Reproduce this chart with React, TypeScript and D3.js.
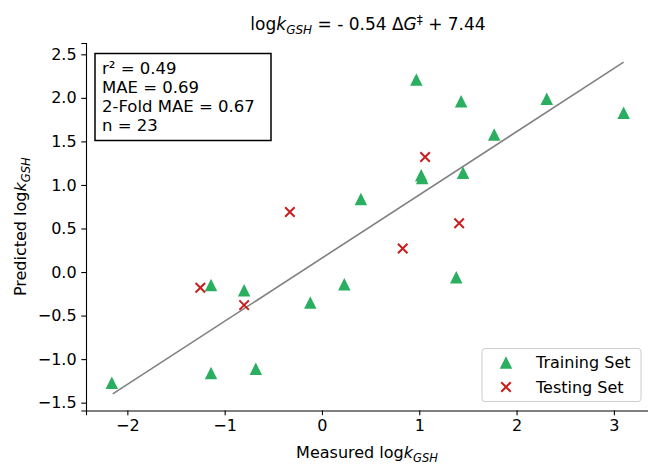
import React, { useRef, useEffect } from 'react';
import * as d3 from 'd3';

// training set (green triangles)
const trainX = [-2.16, -1.14, -0.68, -1.14, -0.80, -0.12, 0.23, 0.40, 0.97, 1.02, 1.03, 1.43, 1.45, 1.38, 1.77, 2.31, 3.10];
const trainY = [-1.27, -1.16, -1.11, -0.15, -0.21, -0.35, -0.14, 0.84, 2.21, 1.11, 1.08, 1.96, 1.14, -0.06, 1.58, 1.99, 1.83];
// testing set (red crosses)
const testX = [-1.25, -0.80, -0.33, 0.83, 1.06, 1.41];
const testY = [-0.18, -0.38, 0.69, 0.27, 1.32, 0.56];
// fitted line
const fitX = [-2.15, 3.10];
const fitY = [-1.40, 2.41];

const xTicks = [-2, -1, 0, 1, 2, 3];
const yTicks = [-1.5, -1.0, -0.5, 0.0, 0.5, 1.0, 1.5, 2.0, 2.5];
const statLines = ['r² = 0.49', 'MAE = 0.69', '2-Fold MAE = 0.67', 'n = 23'];
const legendLabels = ['Training Set', 'Testing Set'];

const W = 648;
const H = 465;
const FONT = 'DejaVu Sans, sans-serif';
const GREEN = '#2aae60';
const RED = '#c81e1e';

const minus = (s: string) => s.replace('-', '\u2212');

const triPath = (cx: number, cy: number, s: number) =>
  `M${cx},${cy - s / 2}L${cx + s / 2},${cy + s / 2}L${cx - s / 2},${cy + s / 2}Z`;

const crossPath = (cx: number, cy: number, s: number) =>
  `M${cx - s / 2},${cy - s / 2}L${cx + s / 2},${cy + s / 2}M${cx - s / 2},${cy + s / 2}L${cx + s / 2},${cy - s / 2}`;

const App = () => {
  const svgRef = useRef<SVGSVGElement>(null);

  useEffect(() => {
    const svg = d3.select(svgRef.current);
    svg.selectAll('*').remove();

    const x = d3.scaleLinear().domain([-2.425, 3.36]).range([86, 648.9]);
    const y = d3.scaleLinear().domain([-1.59, 2.63]).range([410.5, 43]);

    svg.append('rect').attr('width', W).attr('height', H).attr('fill', '#fff');

    // x axis
    const xAxis = svg.append('g')
      .attr('transform', `translate(0,${y.range()[0]})`)
      .call(d3.axisBottom(x).tickValues(xTicks).tickSize(4.7).tickPadding(4).tickFormat(d => minus(String(d))));
    xAxis.select('.domain').attr('stroke', '#000').attr('stroke-width', 1.1);
    xAxis.selectAll('.tick line').attr('stroke-width', 1.1);
    xAxis.selectAll('.tick text').attr('font-size', 16).attr('font-family', FONT).attr('fill', '#000');

    // y axis
    const yAxis = svg.append('g')
      .attr('transform', `translate(${x.range()[0]},0)`)
      .call(d3.axisLeft(y).tickValues(yTicks).tickSize(4.7).tickPadding(4.7).tickFormat(d => minus(d3.format('.1f')(d as number))));
    yAxis.select('.domain').attr('stroke', '#000').attr('stroke-width', 1.1);
    yAxis.selectAll('.tick line').attr('stroke-width', 1.1);
    yAxis.selectAll('.tick text').attr('font-size', 16).attr('font-family', FONT).attr('fill', '#000');

    // fitted line
    svg.append('path')
      .datum(fitX.map((v, i) => [v, fitY[i]] as [number, number]))
      .attr('fill', 'none')
      .attr('stroke', '#808080')
      .attr('stroke-width', 1.6)
      .attr('d', d3.line<[number, number]>().x(d => x(d[0])).y(d => y(d[1])));

    // training points
    svg.append('g').selectAll('path')
      .data(trainX.map((v, i) => [v, trainY[i]]))
      .enter().append('path')
      .attr('d', d => triPath(x(d[0]), y(d[1]), 12.5))
      .attr('fill', GREEN);

    // testing points
    svg.append('g').selectAll('path')
      .data(testX.map((v, i) => [v, testY[i]]))
      .enter().append('path')
      .attr('d', d => crossPath(x(d[0]), y(d[1]), 9.5))
      .attr('stroke', RED)
      .attr('stroke-width', 2)
      .attr('fill', 'none');

    // stats box
    svg.append('rect')
      .attr('x', 95).attr('y', 53.5).attr('width', 176).attr('height', 87)
      .attr('fill', '#fff').attr('stroke', '#000').attr('stroke-width', 1.5);
    svg.append('g').selectAll('text')
      .data(statLines)
      .enter().append('text')
      .attr('x', 102)
      .attr('y', (d, i) => 73.5 + i * 19.2)
      .attr('font-size', 16.5)
      .attr('font-family', FONT)
      .text(d => d);

    // legend
    const lg = svg.append('g');
    lg.append('rect')
      .attr('x', 482).attr('y', 348.5).attr('width', 159).attr('height', 53)
      .attr('rx', 3)
      .attr('fill', '#fff').attr('fill-opacity', 0.8)
      .attr('stroke', '#cccccc').attr('stroke-width', 1);
    lg.append('path').attr('d', triPath(506, 362.5, 12.5)).attr('fill', GREEN);
    lg.append('path').attr('d', crossPath(506, 387, 9.5)).attr('stroke', RED).attr('stroke-width', 2);
    lg.selectAll('text.lab')
      .data(legendLabels)
      .enter().append('text')
      .attr('class', 'lab')
      .attr('x', 536)
      .attr('y', (d, i) => 368 + i * 24.5)
      .attr('font-size', 16)
      .attr('font-family', FONT)
      .text(d => d);

    // title
    const title = svg.append('text')
      .attr('x', 368).attr('y', 30)
      .attr('text-anchor', 'middle')
      .attr('font-size', 17)
      .attr('font-family', FONT);
    title.append('tspan').text('log');
    title.append('tspan').attr('font-style', 'italic').text('k');
    title.append('tspan').attr('font-style', 'italic').attr('font-size', 12).attr('dy', 3.5).text('GSH');
    title.append('tspan').attr('dy', -3.5).text(' = - 0.54 Δ');
    title.append('tspan').attr('font-style', 'italic').text('G');
    title.append('tspan').attr('font-size', 12).attr('dy', -6).text('‡');
    title.append('tspan').attr('dy', 6).text(' + 7.44');

    // x label
    const xl = svg.append('text')
      .attr('x', 367).attr('y', 458)
      .attr('text-anchor', 'middle')
      .attr('font-size', 16)
      .attr('font-family', FONT);
    xl.append('tspan').text('Measured log');
    xl.append('tspan').attr('font-style', 'italic').text('k');
    xl.append('tspan').attr('font-style', 'italic').attr('font-size', 11.5).attr('dy', 3.5).text('GSH');

    // y label
    const yl = svg.append('text')
      .attr('transform', `translate(26,${(y.range()[0] + y.range()[1]) / 2}) rotate(-90)`)
      .attr('text-anchor', 'middle')
      .attr('font-size', 16)
      .attr('font-family', FONT);
    yl.append('tspan').text('Predicted log');
    yl.append('tspan').attr('font-style', 'italic').text('k');
    yl.append('tspan').attr('font-style', 'italic').attr('font-size', 11.5).attr('dy', 3.5).text('GSH');
  }, []);

  return (
    <svg ref={svgRef} width={W} height={H} style={{ position: 'absolute', left: 0, top: 0 }}></svg>
  );
};

export default App;
